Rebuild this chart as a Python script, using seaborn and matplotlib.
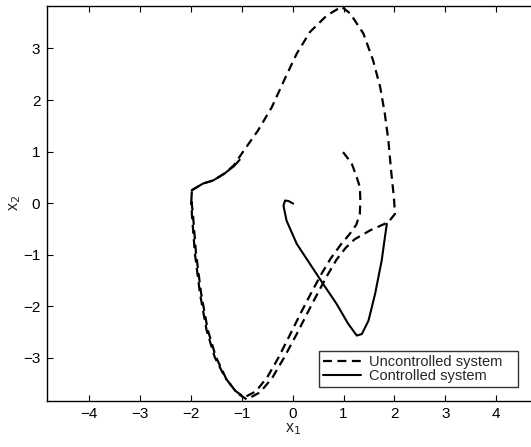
import numpy as np
import pandas as pd
import seaborn as sns
import matplotlib
matplotlib.use("Agg")
import matplotlib.pyplot as plt

# Uncontrolled trajectory (x1, x2), in time order
unc_x1 = [0.99, 1.16, 1.26, 1.32, 1.33, 1.32, 1.25, 1.12, 0.95, 0.75, 0.55, 0.35, 0.15, -0.05,
          -0.28, -0.5, -0.72, -0.95, -1.13, -1.33, -1.53, -1.69, -1.82, -1.92, -1.98, -1.99,
          -1.98, -1.76, -1.56, -1.33, -1.15, -1.0, -0.68, -0.41, -0.15, 0.08, 0.34, 0.67, 0.96,
          1.13, 1.39, 1.58, 1.72, 1.81, 1.88, 1.94, 1.99, 2.01, 1.88, 1.52, 1.22, 1.04, 0.86,
          0.67, 0.47, 0.27, 0.07, -0.17, -0.4, -0.64, -0.9, -1.1, -1.31, -1.51, -1.67, -1.8,
          -1.9, -1.96, -1.99, -1.98]
unc_x2 = [0.99, 0.77, 0.5, 0.31, 0.05, -0.21, -0.42, -0.6, -0.8, -1.07, -1.4, -1.77, -2.15,
          -2.55, -3.0, -3.38, -3.65, -3.77, -3.64, -3.38, -2.99, -2.47, -1.76, -0.98, -0.21,
          0.05, 0.25, 0.38, 0.44, 0.58, 0.74, 0.96, 1.41, 1.86, 2.42, 2.9, 3.32, 3.64, 3.81,
          3.68, 3.29, 2.77, 2.25, 1.74, 1.22, 0.57, 0.1, -0.21, -0.37, -0.53, -0.7, -0.87,
          -1.1, -1.42, -1.79, -2.17, -2.56, -3.0, -3.39, -3.67, -3.81, -3.68, -3.4, -2.98,
          -2.45, -1.74, -0.96, -0.2, 0.05, 0.23]

# Controlled trajectory: visible pieces (piece 0 upper left, piece 1 the loop into the origin)
ctl_piece = [0] * 6 + [1] * 17
ctl_x1 = [-1.98, -1.76, -1.56, -1.33, -1.15, -1.04,
          1.85, 1.8, 1.75, 1.62, 1.49, 1.36, 1.26, 1.09, 0.86, 0.6, 0.34, 0.08, -0.12, -0.18,
          -0.15, -0.08, 0.01]
ctl_x2 = [0.25, 0.38, 0.44, 0.58, 0.72, 0.84,
          -0.4, -0.75, -1.11, -1.76, -2.28, -2.54, -2.57, -2.34, -1.95, -1.57, -1.18, -0.79,
          -0.34, -0.05, 0.05, 0.04, -0.01]

unc = pd.DataFrame({"x1": unc_x1, "x2": unc_x2})
ctl = pd.DataFrame({"x1": ctl_x1, "x2": ctl_x2, "piece": ctl_piece})

sns.set_style("ticks")
plt.rcParams["font.family"] = ["Liberation Sans", "DejaVu Sans"]

fig = plt.figure(figsize=(5.31, 4.47), dpi=100)
ax = fig.add_axes([47.3 / 531, 46.5 / 447, 490.7 / 531, 394.8 / 447])

sns.lineplot(data=unc, x="x1", y="x2", sort=False, estimator=None, ax=ax,
             color="black", lw=1.6, linestyle=(0, (4, 2.5)), label="Uncontrolled system")
sns.lineplot(data=ctl, x="x1", y="x2", units="piece", sort=False, estimator=None, ax=ax,
             color="black", lw=1.5, label="Controlled system")

ax.set_xlim(-4.82, 4.82)
ax.set_ylim(-3.83, 3.83)
ax.set_xticks(range(-4, 5))
ax.set_yticks(range(-3, 4))
ax.set_xticklabels(["\u22124", "\u22123", "\u22122", "\u22121", "0", "1", "2", "3", "4"])
ax.set_yticklabels(["\u22123", "\u22122", "\u22121", "0", "1", "2", "3"])
ax.tick_params(direction="in", length=4, width=0.8, labelsize=11, colors="black",
               top=True, right=True, pad=5)
for s in ax.spines.values():
    s.set_linewidth(1.0)
    s.set_color("black")

ax.set_xlabel("x$_1$", fontsize=11.5, labelpad=0)
ax.set_ylabel("x$_2$", fontsize=11.5, labelpad=0)

handles, labels = ax.get_legend_handles_labels()
leg = ax.legend(handles[:2], [l + "   " for l in labels[:2]], loc="lower right",
                bbox_to_anchor=((518 - 47.3) / 490.7, (447 - 387 - 46.5) / 394.8),
                fontsize=10.5, frameon=True, fancybox=False, edgecolor="black",
                handlelength=2.6, borderpad=0.25, labelspacing=0.05, handletextpad=0.55,
                borderaxespad=0)
leg.get_frame().set_linewidth(1.0)

fig.savefig("out.png", dpi=100)
